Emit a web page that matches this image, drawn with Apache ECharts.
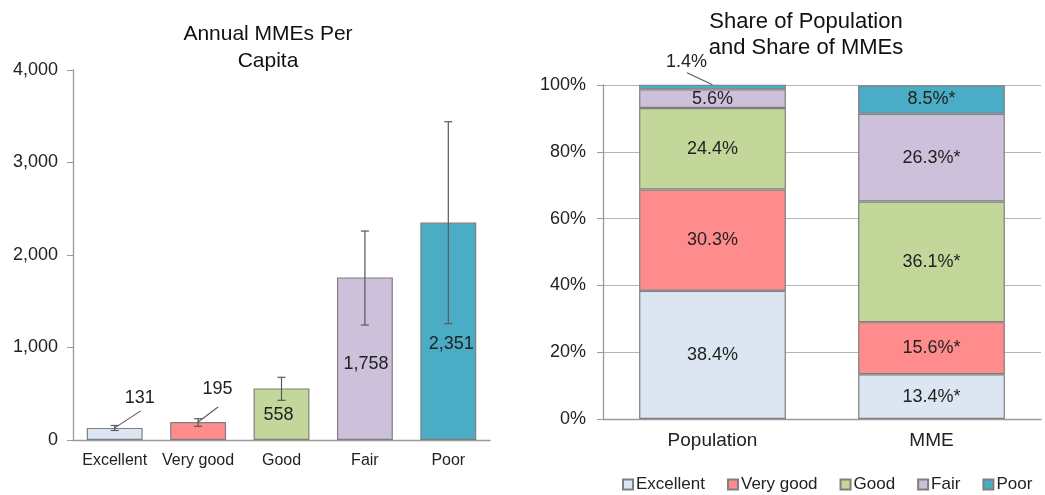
<!DOCTYPE html>
<html>
<head>
<meta charset="utf-8">
<script src="https://cdn.jsdelivr.net/npm/echarts@6/dist/echarts.min.js"></script>
<style>
html,body{margin:0;padding:0;background:#fff;}
#c{width:1045px;height:495px;}
</style>
</head>
<body>
<div id="c"></div>
<script>
// ---- data ----
const categories = ['Excellent', 'Very good', 'Good', 'Fair', 'Poor'];
const mmePerCapita = [131, 195, 558, 1758, 2351];
const errLow = [103, 148, 429, 1243, 1258];
const errHigh = [157, 230, 678, 2259, 3441];
const shareGroups = ['Population', 'MME'];
const popShare = [38.4, 30.3, 24.4, 5.6, 1.4];
const mmeShare = [13.4, 15.6, 36.1, 26.3, 8.5];
const leftTicks = [0, 1000, 2000, 3000, 4000];
const rightTicks = [0, 20, 40, 60, 80, 100];
const leftCalloutIdx = [0, 1];     // bars whose labels sit outside with a leader line
const rightCalloutIdx = [4];       // Population segment with outside label (Poor)

// ---- styles ----
const colors = ['#dce6f2', '#ff8c8c', '#c4d79b', '#ccc0da', '#4bacc6'];
const FONT = 'Liberation Sans, Arial, sans-serif';
const TXT = '#222222';
const AX = '#9a9a9a';
const BORDER = '#7f7f7f';
const LEAD = '#595959';
const insideMove = {2: {dx: -3, dy: 1}, 3: {dx: 1, dy: 5}, 4: {dx: 3, dy: 13}};
// callout geometry in px relative to anchor (bar top centre): [labelDx, labelDy, lineEndDx, lineEndDy]
const leftCalloutGeom = {0: [25, -30, 26, -17], 1: [19.5, -33, 20, -15]};
const rightCalloutGeom = {4: [-26, -23, -25.5, -12]};

const chart = echarts.init(document.getElementById('c'), null, {renderer: 'canvas'});
const fmtNum = v => v.toLocaleString('en-US');
const labelFont = '18px ' + FONT;

const leftBarData = mmePerCapita.map((v, i) => ({
  value: v,
  itemStyle: {color: colors[i]},
  label: {show: leftCalloutIdx.indexOf(i) < 0}
}));

const errData = categories.map((c, i) => [i, errLow[i], errHigh[i]]);

const leftCalloutData = leftCalloutIdx.map(i => [i, mmePerCapita[i], i]);
const rightCalloutData = rightCalloutIdx.map(i => [0, popShare.reduce((a, b) => a + b, 0), i]);

function calloutRender(geomMap, textFn) {
  return function (params, api) {
    const cat = api.value(0);
    const val = api.value(1);
    const idx = api.value(2);
    const p = api.coord([cat, val]);
    const g = geomMap[idx];
    return {
      type: 'group',
      children: [
        {type: 'line', shape: {x1: p[0], y1: p[1], x2: p[0] + g[2], y2: p[1] + g[3]},
         style: {stroke: LEAD, lineWidth: 1.1}},
        {type: 'text', x: p[0] + g[0], y: p[1] + g[1],
         style: {text: textFn(idx), font: labelFont, fill: TXT, align: 'center', verticalAlign: 'middle'}}
      ]
    };
  };
}

const stackSeries = categories.map((name, i) => ({
  name: name,
  type: 'bar',
  stack: 'share',
  xAxisIndex: 1,
  yAxisIndex: 1,
  barWidth: '67%',
  data: shareGroups.map((g, gi) => ({
    value: gi === 0 ? popShare[i] : mmeShare[i],
    label: {show: !(gi === 0 && rightCalloutIdx.indexOf(i) >= 0)}
  })),
  itemStyle: {color: colors[i], borderColor: BORDER, borderWidth: 1.2},
  label: {
    show: true,
    position: 'inside',
    fontFamily: FONT,
    fontSize: 18,
    color: TXT,
    formatter: p => p.dataIndex === 0 ? p.value.toFixed(1) + '%' : p.value.toFixed(1) + '%*'
  }
}));

const option = {
  animation: false,
  backgroundColor: '#ffffff',
  textStyle: {fontFamily: FONT},
  title: [
    {
      text: 'Annual MMEs Per\nCapita',
      left: 263, top: 16, textAlign: 'center',
      textStyle: {fontFamily: FONT, fontSize: 21, fontWeight: 'normal', color: '#111', lineHeight: 27}
    },
    {
      text: 'Share of Population\nand Share of MMEs',
      left: 801, top: 4, textAlign: 'center',
      textStyle: {fontFamily: FONT, fontSize: 22, fontWeight: 'normal', color: '#111', lineHeight: 26}
    }
  ],
  legend: {
    data: categories,
    left: 617, top: 471,
    icon: 'rect',
    itemWidth: 10, itemHeight: 10, itemGap: 22,
    textStyle: {fontFamily: FONT, fontSize: 17, color: TXT, padding: [0, 0, 0, -2]}
  },
  grid: [
    {left: 73, top: 70, width: 417, height: 370},
    {left: 603, top: 85, width: 438, height: 334}
  ],
  xAxis: [
    {
      type: 'category', gridIndex: 0, data: categories,
      axisLine: {lineStyle: {color: AX, width: 1.3}},
      axisTick: {show: false},
      axisLabel: {interval: 0, fontFamily: FONT, fontSize: 16, color: TXT, margin: 13}
    },
    {
      type: 'category', gridIndex: 1, data: shareGroups,
      axisLine: {lineStyle: {color: AX, width: 1.3}},
      axisTick: {show: false},
      axisLabel: {interval: 0, fontFamily: FONT, fontSize: 19, color: TXT, margin: 12}
    }
  ],
  yAxis: [
    {
      type: 'value', gridIndex: 0, min: leftTicks[0], max: leftTicks[leftTicks.length - 1], interval: 1000,
      axisLine: {show: true, lineStyle: {color: AX, width: 1.3}},
      axisTick: {show: true, inside: false, length: 6, lineStyle: {color: AX}},
      splitLine: {show: false},
      axisLabel: {fontFamily: FONT, fontSize: 18, color: TXT, margin: 15, formatter: v => fmtNum(v)}
    },
    {
      type: 'value', gridIndex: 1, min: rightTicks[0], max: rightTicks[rightTicks.length - 1], interval: 20,
      axisLine: {show: true, lineStyle: {color: AX, width: 1.3}},
      axisTick: {show: true, inside: false, length: 6, lineStyle: {color: AX}},
      splitLine: {show: true, lineStyle: {color: '#b4b4b4', width: 1}},
      axisLabel: {fontFamily: FONT, fontSize: 18, color: TXT, margin: 17, formatter: '{value}%'}
    }
  ],
  series: [
    {
      name: 'MMEs per capita',
      type: 'bar',
      xAxisIndex: 0, yAxisIndex: 0,
      barWidth: '67%',
      data: leftBarData,
      itemStyle: {borderColor: BORDER, borderWidth: 1.2},
      label: {
        show: true, position: 'inside', fontFamily: FONT, fontSize: 18, color: TXT,
        formatter: p => fmtNum(p.value)
      },
      labelLayout: function (p) {
        return insideMove[p.dataIndex] || {};
      },
      z: 2
    },
    {
      name: 'err',
      type: 'custom',
      xAxisIndex: 0, yAxisIndex: 0,
      data: errData,
      z: 5,
      silent: true,
      renderItem: function (params, api) {
        const x = api.value(0);
        const lo = api.coord([x, api.value(1)]);
        const hi = api.coord([x, api.value(2)]);
        const cap = 4;
        const st = {stroke: LEAD, lineWidth: 1.2};
        return {
          type: 'group',
          children: [
            {type: 'line', shape: {x1: lo[0], y1: lo[1], x2: hi[0], y2: hi[1]}, style: st},
            {type: 'line', shape: {x1: lo[0] - cap, y1: lo[1], x2: lo[0] + cap, y2: lo[1]}, style: st},
            {type: 'line', shape: {x1: hi[0] - cap, y1: hi[1], x2: hi[0] + cap, y2: hi[1]}, style: st}
          ]
        };
      }
    },
    {
      name: 'leftCallouts',
      type: 'custom',
      xAxisIndex: 0, yAxisIndex: 0,
      data: leftCalloutData,
      z: 6,
      silent: true,
      renderItem: calloutRender(leftCalloutGeom, i => fmtNum(mmePerCapita[i]))
    },
    {
      name: 'rightCallouts',
      type: 'custom',
      xAxisIndex: 1, yAxisIndex: 1,
      data: rightCalloutData,
      z: 6,
      silent: true,
      renderItem: calloutRender(rightCalloutGeom, i => popShare[i].toFixed(1) + '%')
    }
  ].concat(stackSeries)
};

chart.setOption(option);
</script>
</body>
</html>
